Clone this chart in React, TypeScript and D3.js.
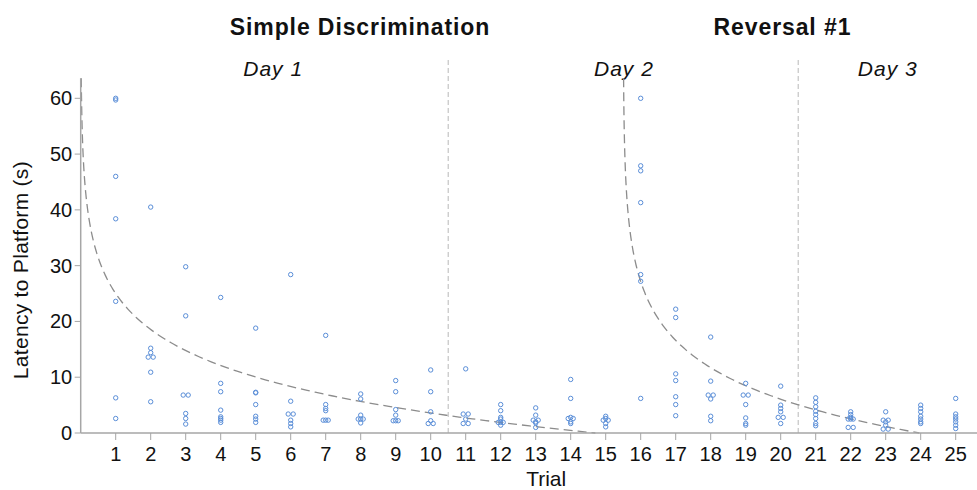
import * as d3 from 'd3'

// latency (s) per animal, one array per trial
const trials = [1, 2, 3, 4, 5, 6, 7, 8, 9, 10, 11, 12, 13, 14, 15, 16, 17, 18, 19, 20, 21, 22, 23, 24, 25]
const latencies: number[][] = [
  [60.0, 59.7, 46.0, 38.4, 23.6, 6.3, 2.6],
  [40.5, 15.2, 14.4, 13.6, 13.6, 10.9, 5.6],
  [29.8, 21.0, 6.8, 6.8, 3.5, 2.6, 1.6],
  [24.3, 8.9, 7.4, 4.1, 2.9, 2.6, 2.3, 1.9],
  [18.8, 7.3, 7.2, 5.1, 3.0, 2.5, 1.9],
  [28.4, 5.7, 3.4, 3.4, 2.3, 1.7, 1.1],
  [17.5, 5.1, 4.4, 4.0, 2.3, 2.3, 2.3],
  [7.0, 6.1, 3.2, 2.5, 2.5, 2.5, 1.8],
  [9.4, 7.4, 4.2, 3.2, 2.2, 2.2, 2.2],
  [11.3, 7.4, 3.8, 2.2, 1.7, 1.7],
  [11.5, 3.4, 3.4, 2.5, 1.7, 1.7],
  [5.1, 4.0, 2.8, 2.5, 1.9, 1.9, 1.9, 1.4],
  [4.5, 3.2, 2.3, 2.3, 2.0, 1.8, 1.0],
  [9.6, 6.2, 2.8, 2.6, 2.6, 2.0, 1.7],
  [3.0, 2.6, 2.3, 2.3, 1.7, 1.1],
  [60.0, 47.9, 47.0, 41.3, 28.4, 27.2, 6.2],
  [22.2, 20.7, 10.6, 9.4, 6.5, 5.1, 3.1],
  [17.2, 9.3, 6.8, 6.8, 6.1, 3.0, 2.2],
  [8.9, 6.8, 6.8, 5.1, 2.7, 1.7, 1.4],
  [8.4, 5.0, 4.4, 3.8, 2.8, 2.8, 1.7],
  [6.3, 5.5, 4.7, 3.9, 3.3, 2.6, 1.7, 1.3],
  [3.8, 3.3, 2.8, 2.5, 2.5, 2.5, 1.0, 1.0],
  [3.8, 2.3, 2.3, 2.0, 1.4, 0.7, 0.7],
  [5.0, 4.4, 3.8, 3.0, 2.5, 2.0, 1.7],
  [6.2, 3.4, 2.9, 2.5, 2.0, 1.4, 0.8],
]

const yTicks = [0, 10, 20, 30, 40, 50, 60]
const phaseTitles = [
  { label: 'Simple Discrimination', at: 7.98 },
  { label: 'Reversal #1', at: 20.05 },
]
const dayLabels = [
  { label: 'Day 1', at: 5.5 },
  { label: 'Day 2', at: 15.52 },
  { label: 'Day 3', at: 23.06 },
]
const dayBreaks = [10.5, 20.5]

// logarithmic fits shown as dashed lines: y = a - b * ln(trial - origin)
const fits = [
  { origin: 0, a: 25.0, b: 9.3 },
  { origin: 15.5, a: 20.5, b: 9.6 },
]

const W = 977
const H = 490
const font = '"Liberation Sans", Arial, Helvetica, sans-serif'

export default function App() {
  const x = d3.scaleLinear().domain([0, 25]).range([80.7, 955.7])
  const y = d3.scaleLinear().domain([0, 60]).range([433, 98.3])
  const yTop = 63.6
  const x0 = x(0)
  const y0 = y(0)

  const line = d3
    .line<[number, number]>()
    .x(d => x(d[0]))
    .y(d => y(d[1]))

  const fitPaths = fits.map(f => {
    const sStart = Math.exp((f.a - yTop) / f.b)
    const sEnd = Math.exp(f.a / f.b)
    const pts: [number, number][] = d3
      .range(0, 201)
      .map(i => {
        const s = Math.exp(Math.log(sStart) + (Math.log(sEnd) - Math.log(sStart)) * (i / 200))
        return [f.origin + s, f.a - f.b * Math.log(s)] as [number, number]
      })
    return line(pts) ?? ''
  })

  // spread points with identical values sideways
  const points: { cx: number; cy: number; key: string }[] = []
  latencies.forEach((vals, i) => {
    const groups = d3.group(vals, v => v)
    groups.forEach((g, v) => {
      const n = g.length
      g.forEach((_, j) => {
        const off = n === 1 ? 0 : -2.5 + (5 * j) / (n - 1)
        points.push({ cx: x(trials[i]) + off, cy: y(v), key: `${i}-${v}-${j}` })
      })
    })
  })

  return (
    <div style={{ position: 'absolute', left: 0, top: 0 }}>
      <svg width={W} height={H} style={{ display: 'block', fontFamily: font }}>
        <rect width={W} height={H} fill="#fff" />

        {phaseTitles.map(t => (
          <text
            key={t.label}
            x={x(t.at)}
            y={35}
            textAnchor="middle"
            fontSize={23}
            letterSpacing={0.9}
            fontWeight="bold"
            fill="#111"
          >
            {t.label}
          </text>
        ))}
        {dayLabels.map(t => (
          <text
            key={t.label}
            x={x(t.at)}
            y={76}
            textAnchor="middle"
            fontSize={21}
            letterSpacing={1}
            fontStyle="italic"
            fill="#111"
          >
            {t.label}
          </text>
        ))}

        {dayBreaks.map(b => (
          <line key={b} x1={x(b)} x2={x(b)} y1={60} y2={y0} stroke="#b8b8b8" strokeWidth={1} strokeDasharray="5,3" />
        ))}

        {fitPaths.map((d, i) => (
          <path key={i} d={d} fill="none" stroke="#8c8c8c" strokeWidth={1.3} strokeDasharray="9,5" />
        ))}

        {points.map(p => (
          <circle key={p.key} cx={p.cx} cy={p.cy} r={2.2} fill="none" stroke="#5a8ed8" strokeWidth={1} />
        ))}

        {/* axes */}
        <line x1={x0} x2={x0} y1={y(yTop)} y2={y0} stroke="#a6a6a6" strokeWidth={1.5} />
        <line x1={x0} x2={W} y1={y0} y2={y0} stroke="#a6a6a6" strokeWidth={1.5} />
        {yTicks.map(t => (
          <g key={t}>
            <line x1={x0 - 6} x2={x0} y1={y(t)} y2={y(t)} stroke="#a6a6a6" strokeWidth={1} />
            <text x={x0 - 8.5} y={y(t)} textAnchor="end" dominantBaseline="central" fontSize={20} fill="#111">
              {t}
            </text>
          </g>
        ))}
        {trials.map(t => (
          <g key={t}>
            <line x1={x(t)} x2={x(t)} y1={y0} y2={y0 + 7} stroke="#a6a6a6" strokeWidth={1} />
            <text x={x(t)} y={461} textAnchor="middle" fontSize={20} fill="#111">
              {t}
            </text>
          </g>
        ))}

        <text x={x(13.3)} y={486} textAnchor="middle" fontSize={21} fill="#111">
          Trial
        </text>
        <text
          transform={`translate(28,${y(29.2)}) rotate(-90)`}
          textAnchor="middle"
          fontSize={21}
          letterSpacing={0.3}
          fill="#111"
        >
          Latency to Platform (s)
        </text>
      </svg>
    </div>
  )
}
